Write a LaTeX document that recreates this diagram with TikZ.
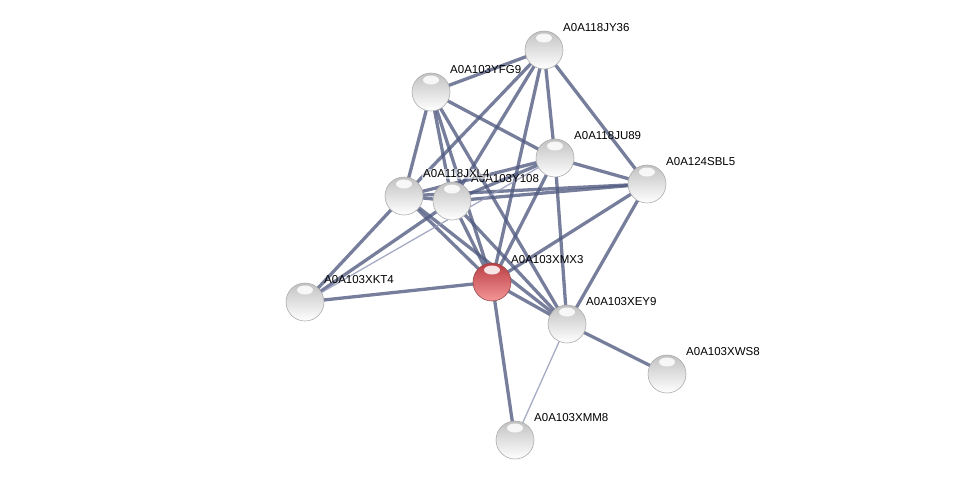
\documentclass[tikz,border=0pt]{standalone}
\usepackage{fontspec}
\setmainfont{Liberation Sans}
\usetikzlibrary{calc}
\definecolor{edgec}{RGB}{80,90,128}
\definecolor{lightedge}{RGB}{150,156,185}
\definecolor{redtop}{RGB}{185,62,68}
\definecolor{redmid}{RGB}{215,100,105}
\definecolor{redbot}{RGB}{245,150,152}
\begin{document}
\begin{tikzpicture}[x=1pt,y=-1pt,
  prot/.style={circle,minimum size=38pt,inner sep=0pt,shading=axis,
    top color=gray!48,middle color=gray!20,bottom color=white,
    draw=gray!65,line width=0.6pt,
    path picture={\fill[white,opacity=0.85] ($(path picture bounding box.center)+(0,-12)$) ellipse (8 and 4.5);}},
  seed/.style={prot,top color=redtop,middle color=redmid,bottom color=redbot,draw=red!40!black!70},
  lab/.style={anchor=west,font=\fontsize{11.5}{13}\selectfont,inner sep=1pt,text=black},
  edge/.style={draw=edgec,line width=3.3pt,opacity=0.78},
  thinedge/.style={draw=lightedge,line width=1.3pt,opacity=0.85}]
\useasboundingbox (0,0) rectangle (976,485);
% node centres
\coordinate (JY36) at (544,50);
\coordinate (YFG9) at (431,92);
\coordinate (JU89) at (555,158);
\coordinate (SBL5) at (647,184);
\coordinate (JXL4) at (404,196);
\coordinate (Y108) at (452,201);
\coordinate (XMX3) at (492,282);
\coordinate (XKT4) at (305,302);
\coordinate (XEY9) at (567,324);
\coordinate (XWS8) at (667,374);
\coordinate (XMM8) at (515,440);
% edges
\foreach \a/\b in {JY36/YFG9,JY36/JXL4,JY36/Y108,JY36/XMX3,JY36/JU89,JY36/SBL5,
  YFG9/JXL4,YFG9/Y108,YFG9/XMX3,YFG9/XEY9,YFG9/JU89,
  JU89/SBL5,JU89/JXL4,JU89/Y108,JU89/XMX3,JU89/XEY9,
  SBL5/JXL4,SBL5/Y108,SBL5/XMX3,SBL5/XEY9,
  JXL4/Y108,JXL4/XKT4,JXL4/XMX3,JXL4/XEY9,
  Y108/XKT4,Y108/XMX3,Y108/XEY9,
  XMX3/XKT4,XMX3/XEY9,XMX3/XMM8,XEY9/XWS8}
  \draw[edge] (\a) -- (\b);
\draw[thinedge] (XKT4) -- (JU89);
\draw[thinedge] (XEY9) -- (XMM8);
% spheres
\foreach \n in {JY36,YFG9,JU89,SBL5,JXL4,Y108,XKT4,XEY9,XWS8,XMM8}
  \node[prot] (n\n) at (\n) {};
\node[seed] (nXMX3) at (XMX3) {};
% labels
\node[lab] (lY108) at ($(Y108)+(18,-22)$) {A0A103Y108};
\node[lab,fill=white,fill opacity=0.6,text opacity=1] (lJXL4) at ($(JXL4)+(18,-22)$) {A0A118JXL4};
\foreach \n/\t in {JY36/A0A118JY36,YFG9/A0A103YFG9,JU89/A0A118JU89,SBL5/A0A124SBL5,
  XMX3/A0A103XMX3,XKT4/A0A103XKT4,XEY9/A0A103XEY9,XWS8/A0A103XWS8,XMM8/A0A103XMM8}
  \node[lab] (l\n) at ($(\n)+(18,-22)$) {\t};
\end{tikzpicture}
\end{document}
